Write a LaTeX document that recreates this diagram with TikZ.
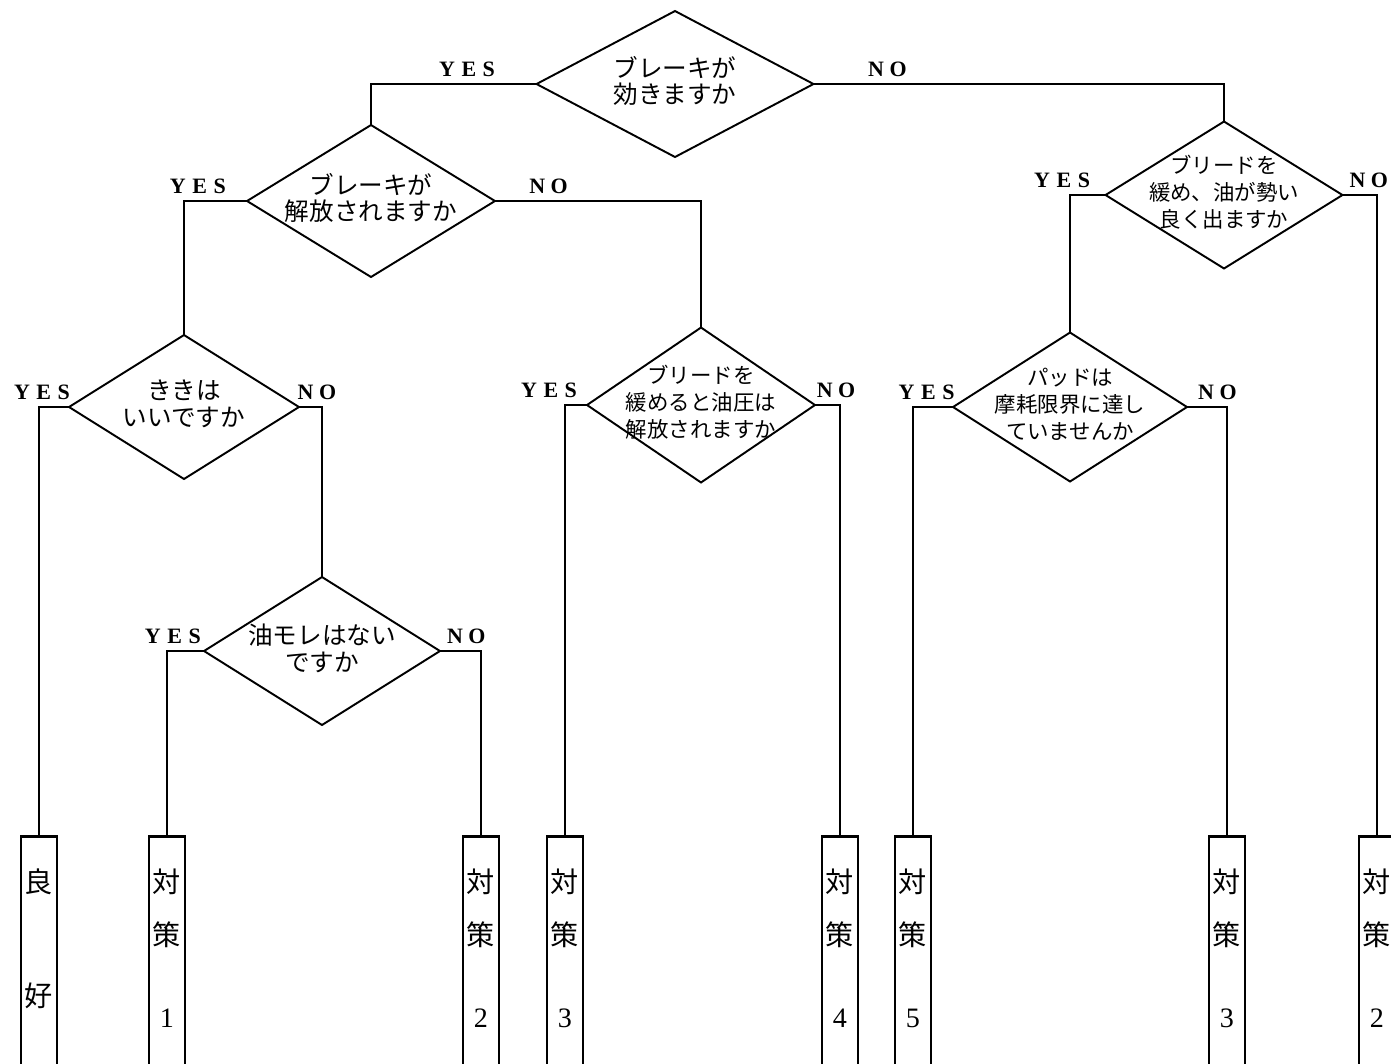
\documentclass[tikz,border=0pt]{standalone}
\usepackage{fontspec}
\setmainfont{Liberation Serif}
\newfontfamily\jpfont{Noto Sans CJK JP}
\usetikzlibrary{shapes.geometric}

\newcommand{\ansYes}{Y\kern.3em E\kern.3em S}
\newcommand{\ansNo}{N\kern.25em O}

\begin{document}
\begin{tikzpicture}[x=0.02cm, y=-0.02cm, line width=1.1pt,
        decND/.style={diamond,
                      draw,
                      inner sep=0pt,
                      outer sep=0pt},
        decTXT/.style={anchor=center,
                       align=center,
                       yshift=0.06cm,
                       font=\jpfont\fontsize{14pt}{15.3pt}\selectfont},
        decSM/.style={decTXT,
                      font=\jpfont\fontsize{12.2pt}{15.3pt}\selectfont},
        ansND/.style={inner sep=3.5pt,
                      font=\bfseries\fontsize{12.5pt}{12.5pt}\selectfont},
        leafND/.style={draw,
                       line width=1.6pt,
                       anchor=north,
                       minimum width=0.72cm,
                       inner xsep=0pt,
                       inner ysep=0.64cm,
                       text depth=3cm,
                       align=center,
                       font=\jpfont\fontsize{16pt}{30.6pt}\selectfont}]
    \useasboundingbox (0,0) rectangle (1391,1063);
    % questions
    \node[decND, minimum width=5.54cm, minimum height=2.92cm,
          label={[decTXT]center:{ブレーキが\\効きますか}}] (Q1) at (675,84) {};
    \node[decND, minimum width=4.96cm, minimum height=3.04cm,
          label={[decTXT]center:{ブレーキが\\解放されますか}}] (Q2) at (371,201) {};
    \node[decND, minimum width=4.74cm, minimum height=2.94cm,
          label={[decSM]center:{ブリードを\\緩め、油が勢い\\良く出ますか}}] (Q3) at (1224,195) {};
    \node[decND, minimum width=4.6cm, minimum height=2.88cm,
          label={[decTXT]center:{ききは\\いいですか}}] (Q4) at (184,407) {};
    \node[decND, minimum width=4.56cm, minimum height=3.1cm,
          label={[decSM]center:{ブリードを\\緩めると油圧は\\解放されますか}}] (Q5) at (701,405) {};
    \node[decND, minimum width=4.68cm, minimum height=2.98cm,
          label={[decSM]center:{パッドは\\摩耗限界に達し\\ていませんか}}] (Q6) at (1070,407) {};
    \node[decND, minimum width=4.72cm, minimum height=2.96cm,
          label={[decTXT]center:{油モレはない\\ですか}}] (Q7) at (322,651) {};
    % results
    \node[leafND] (R1) at (39,835)   {良\\[34.6pt]好};
    \node[leafND] (R2) at (167,835)  {対\\策\\[15.9pt]{\rmfamily 1}};
    \node[leafND] (R3) at (481,835)  {対\\策\\[15.9pt]{\rmfamily 2}};
    \node[leafND] (R4) at (565,835)  {対\\策\\[15.9pt]{\rmfamily 3}};
    \node[leafND] (R5) at (840,835)  {対\\策\\[15.9pt]{\rmfamily 4}};
    \node[leafND] (R6) at (913,835)  {対\\策\\[15.9pt]{\rmfamily 5}};
    \node[leafND] (R7) at (1227,835) {対\\策\\[15.9pt]{\rmfamily 3}};
    \node[leafND] (R8) at (1377,835) {対\\策\\[15.9pt]{\rmfamily 2}};
    % branches
    \draw (Q1.west) -| node[ansND, pos=0.21, above] {\ansYes} (Q2.north);
    \draw (Q1.east) -| node[ansND, pos=0.09, above] {\ansNo}  (Q3.north);
    \draw (Q2.west) -| node[ansND, pos=0.39, above] {\ansYes} (Q4.north);
    \draw (Q2.east) -| node[ansND, pos=0.13, above] {\ansNo}  (Q5.north);
    \draw (Q3.west) -| node[ansND, pos=0.5, above, xshift=-0.16cm] {\ansYes} (Q6.north);
    \draw (Q3.east) -| node[ansND, pos=0.38, above] {\ansNo}  (R8.north);
    \draw (Q4.west) -| node[ansND, pos=0.45, above] {\ansYes} (R1.north);
    \draw (Q4.east) -| node[ansND, pos=0.39, above] {\ansNo}  (Q7.north);
    \draw (Q5.west) -| node[ansND, pos=0.5, above, xshift=-0.32cm] {\ansYes} (R4.north);
    \draw (Q5.east) -| node[ansND, pos=0.42, above] {\ansNo}  (R5.north);
    \draw (Q6.west) -| node[ansND, pos=0.33, above] {\ansYes} (R6.north);
    \draw (Q6.east) -| node[ansND, pos=0.38, above] {\ansNo}  (R7.north);
    \draw (Q7.west) -| node[ansND, pos=0.42, above] {\ansYes} (R2.north);
    \draw (Q7.east) -| node[ansND, pos=0.32, above] {\ansNo}  (R3.north);
\end{tikzpicture}
\end{document}
